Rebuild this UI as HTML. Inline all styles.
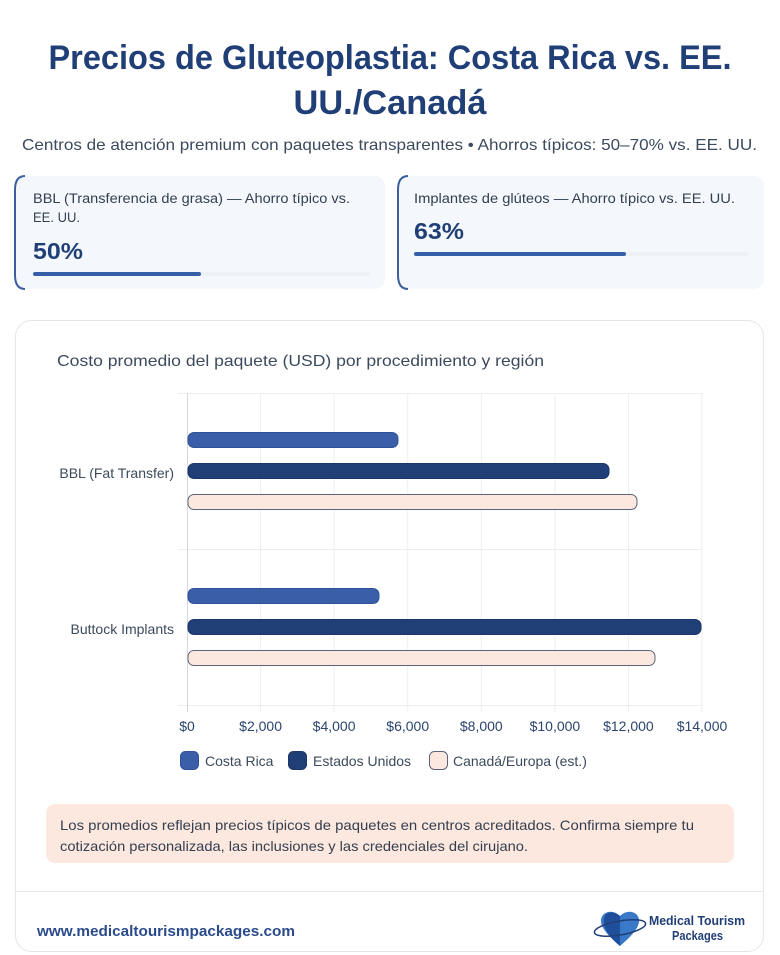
<!DOCTYPE html>
<html><head><meta charset="utf-8"><style>
html,body{margin:0;padding:0;background:#fff;}
svg{display:block;}
</style></head><body>
<svg width="780" height="955" viewBox="0 0 780 955" xmlns="http://www.w3.org/2000/svg" font-family="'Liberation Sans', sans-serif">
<rect width="780" height="955" fill="#fff"/>
<text x="390" y="69" text-anchor="middle" font-size="34" font-weight="bold" fill="#213f77" textLength="683" lengthAdjust="spacingAndGlyphs">Precios de Gluteoplastia: Costa Rica vs. EE.</text>
<text x="390" y="114" text-anchor="middle" font-size="34" font-weight="bold" fill="#213f77" textLength="193" lengthAdjust="spacingAndGlyphs">UU./Canadá</text>
<text x="22" y="150" font-size="16" fill="#3b4a5c" textLength="735" lengthAdjust="spacingAndGlyphs">Centros de atención premium con paquetes transparentes • Ahorros típicos: 50–70% vs. EE. UU.</text>

<!-- Card 1 -->
<rect x="15" y="176" width="370" height="113" rx="10" fill="#f4f8fd"/>
<path d="M25 176 Q15 176 15 190 L15 275 Q15 289 25 289" fill="none" stroke="#3a5e9f" stroke-width="2"/>
<text x="33" y="203" font-size="13.5" fill="#333f4f" textLength="317" lengthAdjust="spacingAndGlyphs">BBL (Transferencia de grasa) — Ahorro típico vs.</text>
<text x="33" y="222" font-size="13.5" fill="#333f4f" textLength="47" lengthAdjust="spacingAndGlyphs">EE. UU.</text>
<text x="33" y="259" font-size="23" font-weight="bold" fill="#213f77" textLength="50" lengthAdjust="spacingAndGlyphs">50%</text>
<rect x="33" y="272" width="337" height="4" rx="2" fill="#edf1f6"/>
<rect x="33" y="272" width="168" height="4" rx="2" fill="#3560a8"/>

<!-- Card 2 -->
<rect x="398" y="176" width="366" height="113" rx="10" fill="#f4f8fd"/>
<path d="M408 176 Q398 176 398 190 L398 275 Q398 289 408 289" fill="none" stroke="#3a5e9f" stroke-width="2"/>
<text x="414" y="203" font-size="13.5" fill="#333f4f" textLength="321" lengthAdjust="spacingAndGlyphs">Implantes de glúteos — Ahorro típico vs. EE. UU.</text>
<text x="414" y="239" font-size="23" font-weight="bold" fill="#213f77" textLength="50" lengthAdjust="spacingAndGlyphs">63%</text>
<rect x="414" y="252" width="334" height="4" rx="2" fill="#edf1f6"/>
<rect x="414" y="252" width="212" height="4" rx="2" fill="#3560a8"/>

<!-- Chart card -->
<rect x="15.5" y="320.5" width="748" height="631" rx="16" fill="#fff" stroke="#e3e6ea"/>
<text x="57" y="366" font-size="16" fill="#3b4a5c" textLength="487" lengthAdjust="spacingAndGlyphs">Costo promedio del paquete (USD) por procedimiento y región</text>

<g stroke="#eceef1" stroke-width="1">
<line x1="260.6" y1="393" x2="260.6" y2="712"/>
<line x1="334.1" y1="393" x2="334.1" y2="712"/>
<line x1="407.7" y1="393" x2="407.7" y2="712"/>
<line x1="481.3" y1="393" x2="481.3" y2="712"/>
<line x1="554.9" y1="393" x2="554.9" y2="712"/>
<line x1="628.4" y1="393" x2="628.4" y2="712"/>
<line x1="702" y1="393" x2="702" y2="712"/>
<line x1="178" y1="393.5" x2="702" y2="393.5"/>
<line x1="178" y1="549.5" x2="702" y2="549.5"/>
<line x1="178" y1="705.5" x2="702" y2="705.5"/>
</g>
<line x1="187.5" y1="393" x2="187.5" y2="712" stroke="#d5d8dd"/>

<!-- bars -->
<rect x="188" y="432.5" width="210" height="15" rx="6" fill="#3a5fa8" stroke="#2f5196"/>
<rect x="188" y="463.5" width="421" height="15" rx="6" fill="#213f77" stroke="#1b3566"/>
<rect x="188" y="494.5" width="449" height="15" rx="6" fill="#fde8df" stroke="#5b6478"/>
<rect x="188" y="588.5" width="191" height="15" rx="6" fill="#3a5fa8" stroke="#2f5196"/>
<rect x="188" y="619.5" width="513" height="15" rx="6" fill="#213f77" stroke="#1b3566"/>
<rect x="188" y="650.5" width="467" height="15" rx="6" fill="#fde8df" stroke="#5b6478"/>

<g font-size="14" fill="#3b4a5c" text-anchor="end">
<text x="174" y="478">BBL (Fat Transfer)</text>
<text x="174" y="634">Buttock Implants</text>
</g>
<g font-size="14" fill="#2b4470" text-anchor="middle">
<text x="187" y="731">$0</text>
<text x="260.6" y="731">$2,000</text>
<text x="334.1" y="731">$4,000</text>
<text x="407.7" y="731">$6,000</text>
<text x="481.3" y="731">$8,000</text>
<text x="554.9" y="731">$10,000</text>
<text x="628.4" y="731">$12,000</text>
<text x="702" y="731">$14,000</text>
</g>

<!-- legend -->
<rect x="180.5" y="751.5" width="18" height="18" rx="5" fill="#3a5fa8" stroke="#2f5196"/>
<text x="205" y="766" font-size="14" fill="#3b4a5c">Costa Rica</text>
<rect x="288.5" y="751.5" width="18" height="18" rx="5" fill="#213f77" stroke="#1b3566"/>
<text x="313" y="766" font-size="14" fill="#3b4a5c">Estados Unidos</text>
<rect x="429.5" y="751.5" width="18" height="18" rx="5" fill="#fde8df" stroke="#5b6478"/>
<text x="453" y="766" font-size="14" fill="#3b4a5c">Canadá/Europa (est.)</text>

<!-- note -->
<rect x="46" y="804" width="688" height="59" rx="9" fill="#fde8df"/>
<text x="60" y="830" font-size="14" fill="#333f4f" textLength="634" lengthAdjust="spacingAndGlyphs">Los promedios reflejan precios típicos de paquetes en centros acreditados. Confirma siempre tu</text>
<text x="60" y="851" font-size="14" fill="#333f4f" textLength="468" lengthAdjust="spacingAndGlyphs">cotización personalizada, las inclusiones y las credenciales del cirujano.</text>

<line x1="16" y1="891.5" x2="763" y2="891.5" stroke="#e5e7eb"/>
<text x="37" y="936" font-size="15" font-weight="bold" fill="#2a4a8a" textLength="258" lengthAdjust="spacingAndGlyphs">www.medicaltourismpackages.com</text>

<!-- logo -->
<path d="M620 946 C606 934 600 926 601 919 C603 911 613 909 620 916 C627 909 637 911 639 919 C640 926 634 934 620 946 Z" fill="#3a78c8"/>
<path d="M604 918 C605 912 613 910 620 916 L620 946 C608 936 603 928 604 918Z" fill="#1f4f9a"/>
<ellipse cx="620" cy="928" rx="26" ry="7" fill="none" stroke="#213f77" stroke-width="1.5" transform="rotate(-10 620 928)"/>
<text x="649" y="925" font-size="13" font-weight="bold" fill="#213f77" textLength="96" lengthAdjust="spacingAndGlyphs">Medical Tourism</text>
<text x="672" y="940" font-size="13" font-weight="bold" fill="#213f77" textLength="51" lengthAdjust="spacingAndGlyphs">Packages</text>
</svg>
</body></html>
